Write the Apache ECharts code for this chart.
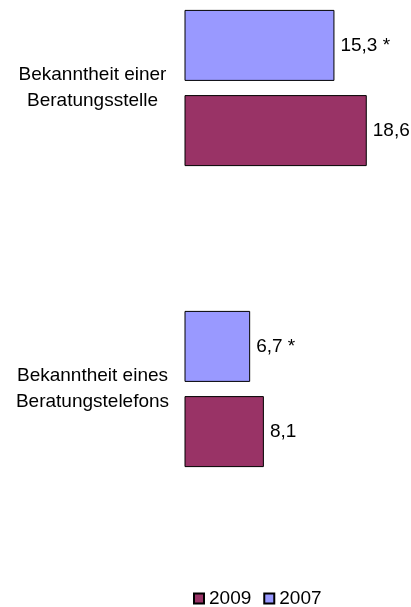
<!DOCTYPE html>
<html>
<head>
<meta charset="utf-8">
<script src="https://cdn.jsdelivr.net/npm/echarts@6/dist/echarts.min.js"></script>
<style>html,body{margin:0;padding:0;background:#fff;}#c{width:411px;height:607px;}</style>
</head>
<body>
<div id="c"></div>
<script>
// categories listed bottom-to-top
var categories = ["Bekanntheit eines\nBeratungstelefons", "Bekanntheit einer\nBeratungsstelle"];
var values2009 = [8.1, 18.6];
var values2007 = [6.7, 15.3];
var legendOrder = ["2009", "2007"];
var footnoteMark2007 = " *";

var FONT = "'Liberation Sans', Arial, sans-serif";
function fmt(v) { return String(v).replace('.', ','); }

var labelBase = { show: true, position: 'right', distance: 6, fontFamily: FONT, fontSize: 19, color: '#000' };

var chart = echarts.init(document.getElementById('c'));
chart.setOption({
  animation: false,
  textStyle: { fontFamily: FONT },
  legend: {
    data: legendOrder,
    icon: 'rect',
    left: 188, top: 584,
    itemWidth: 10, itemHeight: 10, itemGap: 12,
    textStyle: { fontFamily: FONT, fontSize: 19, color: '#000' }
  },
  grid: { left: 184.5, top: 88, width: 196, height: 301 },
  xAxis: { type: 'value', min: 0, max: 20, show: false },
  yAxis: {
    type: 'category', data: categories, boundaryGap: false,
    axisLine: { show: false }, axisTick: { show: false }, splitLine: { show: false },
    axisLabel: { align: 'center', margin: 92, fontFamily: FONT, fontSize: 19, lineHeight: 26, color: '#000' }
  },
  series: [
    {
      name: "2007", type: 'bar', data: values2007, clip: false,
      barWidth: 71, barGap: '20%',
      itemStyle: { color: '#9999FF', borderColor: '#000', borderWidth: 1 },
      label: Object.assign({}, labelBase, { formatter: function (p) { return fmt(p.value) + footnoteMark2007; } })
    },
    {
      name: "2009", type: 'bar', data: values2009, clip: false,
      barWidth: 71, barGap: '20%',
      itemStyle: { color: '#993366', borderColor: '#000', borderWidth: 1 },
      label: Object.assign({}, labelBase, { formatter: function (p) { return fmt(p.value); } })
    }
  ]
});
</script>
</body>
</html>
